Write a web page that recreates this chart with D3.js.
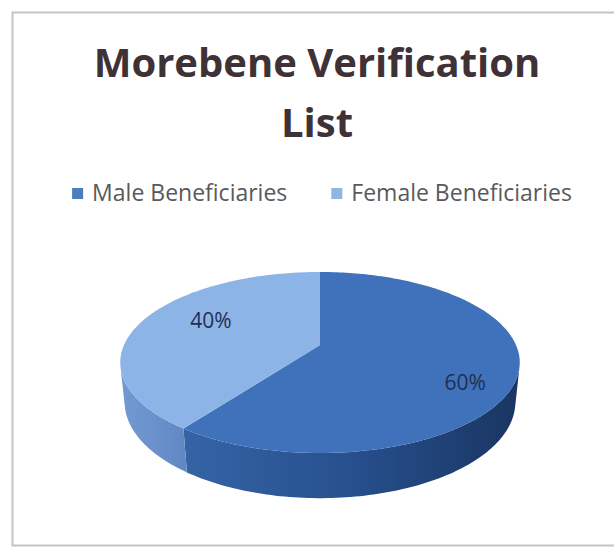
<!DOCTYPE html>
<html>
<head>
<meta charset="utf-8">
<script src="https://cdn.jsdelivr.net/npm/d3@7"></script>
<style>
  html, body { margin: 0; padding: 0; background: #fff; }
  svg { display: block; }
</style>
</head>
<body>
<div id="chart"></div>
<script>
const categories = ['Male Beneficiaries', 'Female Beneficiaries'];
const values = [60, 40];
const pctLabels = ['60%', '40%'];
const titleLines = ['Morebene Verification', 'List'];

const w = 614;
const h = 550;

const topColors = ['#3f72ba', '#8db4e6'];
const legendColors = ['#4a7ebc', '#8fb6e4'];
const sideStops = [
  ['#3564a5', '#27508e', '#1a3663'],
  ['#7399d3', '#6c92cd', '#6288c4']
];

// 3d projection of the pie disk (angles clockwise from the back)
const cx = 320, cy = 345, R = 196;
const tilt = 26.4 * Math.PI / 180;
const D = 4.64, depthH = 0.2265;
const sinE = Math.sin(tilt), cosE = Math.cos(tilt);

function proj(a, r, y) {
  const X = r * Math.sin(a), Z = r * Math.cos(a);
  const yUp = Z * sinE + y * cosE;
  const dep = Z * cosE - y * sinE;
  const s = D / (D + dep);
  return [cx + R * X * s, cy - R * yUp * s];
}

function arcPts(a0, a1, y) {
  const n = Math.max(2, Math.ceil(Math.abs(a1 - a0) / 0.02));
  return d3.range(n + 1).map(i => proj(a0 + (a1 - a0) * i / n, 1, y));
}

const svg = d3.select('#chart')
  .append('svg')
  .attr('width', w)
  .attr('height', h);

// frame
svg.append('rect')
  .attr('x', 12.5).attr('y', 12.5)
  .attr('width', 640).attr('height', 533)
  .attr('fill', '#fff')
  .attr('stroke', '#c4c4c4')
  .attr('stroke-width', 2);

// title
svg.selectAll('text.title')
  .data(titleLines)
  .enter()
  .append('text')
  .attr('class', 'title')
  .attr('x', 317)
  .attr('y', (d, i) => 77 + i * 60)
  .attr('text-anchor', 'middle')
  .attr('font-family', '"Open Sans", sans-serif')
  .attr('font-weight', 700)
  .attr('font-size', 40)
  .attr('fill', '#3f3236')
  .text(d => d);

// legend
const legend = svg.append('g');
const items = legend.selectAll('g')
  .data(categories)
  .enter()
  .append('g');
items.append('rect')
  .attr('width', 11).attr('height', 11)
  .attr('y', -13)
  .attr('fill', (d, i) => legendColors[i]);
items.append('text')
  .attr('x', 20)
  .attr('font-family', '"Open Sans", sans-serif')
  .attr('font-size', 23)
  .attr('fill', '#595959')
  .text(d => d);
let lx = 0;
items.each(function () {
  d3.select(this).attr('transform', `translate(${lx},0)`);
  lx += this.getBBox().width + 44;
});
lx -= 44;
legend.attr('transform', `translate(${322 - lx / 2},201)`);

// pie
const pie = d3.pie().sort(null).startAngle(0).endAngle(2 * Math.PI);
const arcs = pie(values);

const defs = svg.append('defs');
sideStops.forEach((stops, i) => {
  const g = defs.append('linearGradient')
    .attr('id', 'side' + i)
    .attr('gradientUnits', 'userSpaceOnUse')
    .attr('x1', i === 0 ? 180 : 120).attr('x2', i === 0 ? 515 : 185)
    .attr('y1', 0).attr('y2', 0);
  stops.forEach((c, k) => g.append('stop')
    .attr('offset', k / (stops.length - 1))
    .attr('stop-color', c));
});

const line = d3.line();
const visLo = 104 * Math.PI / 180, visHi = 256 * Math.PI / 180;

// side walls
svg.append('g')
  .selectAll('path')
  .data(arcs.filter(d => Math.min(d.endAngle, visHi) > Math.max(d.startAngle, visLo)))
  .enter()
  .append('path')
  .attr('fill', d => `url(#side${d.index})`)
  .attr('d', d => {
    const a0 = Math.max(d.startAngle, visLo), a1 = Math.min(d.endAngle, visHi);
    const pts = arcPts(a0, a1, 0).concat(arcPts(a1, a0, -depthH));
    return line(pts) + 'Z';
  });

// top faces
svg.append('g')
  .selectAll('path')
  .data(arcs)
  .enter()
  .append('path')
  .attr('fill', d => topColors[d.index])
  .attr('d', d => line([proj(0, 0, 0)].concat(arcPts(d.startAngle, d.endAngle, 0))) + 'Z');

// data labels
const labelR = [0.79, 0.66];
const labelShift = [12, 9].map(v => v * Math.PI / 180);
svg.append('g')
  .selectAll('text')
  .data(arcs)
  .enter()
  .append('text')
  .attr('transform', d => {
    const mid = (d.startAngle + d.endAngle) / 2 + labelShift[d.index];
    const p = proj(mid, labelR[d.index], 0);
    return `translate(${p[0]},${p[1]})`;
  })
  .attr('text-anchor', 'middle')
  .attr('dy', '0.35em')
  .attr('font-family', '"Open Sans", sans-serif')
  .attr('font-size', 21)
  .attr('fill', '#1f3050')
  .text(d => pctLabels[d.index]);
</script>
</body>
</html>
